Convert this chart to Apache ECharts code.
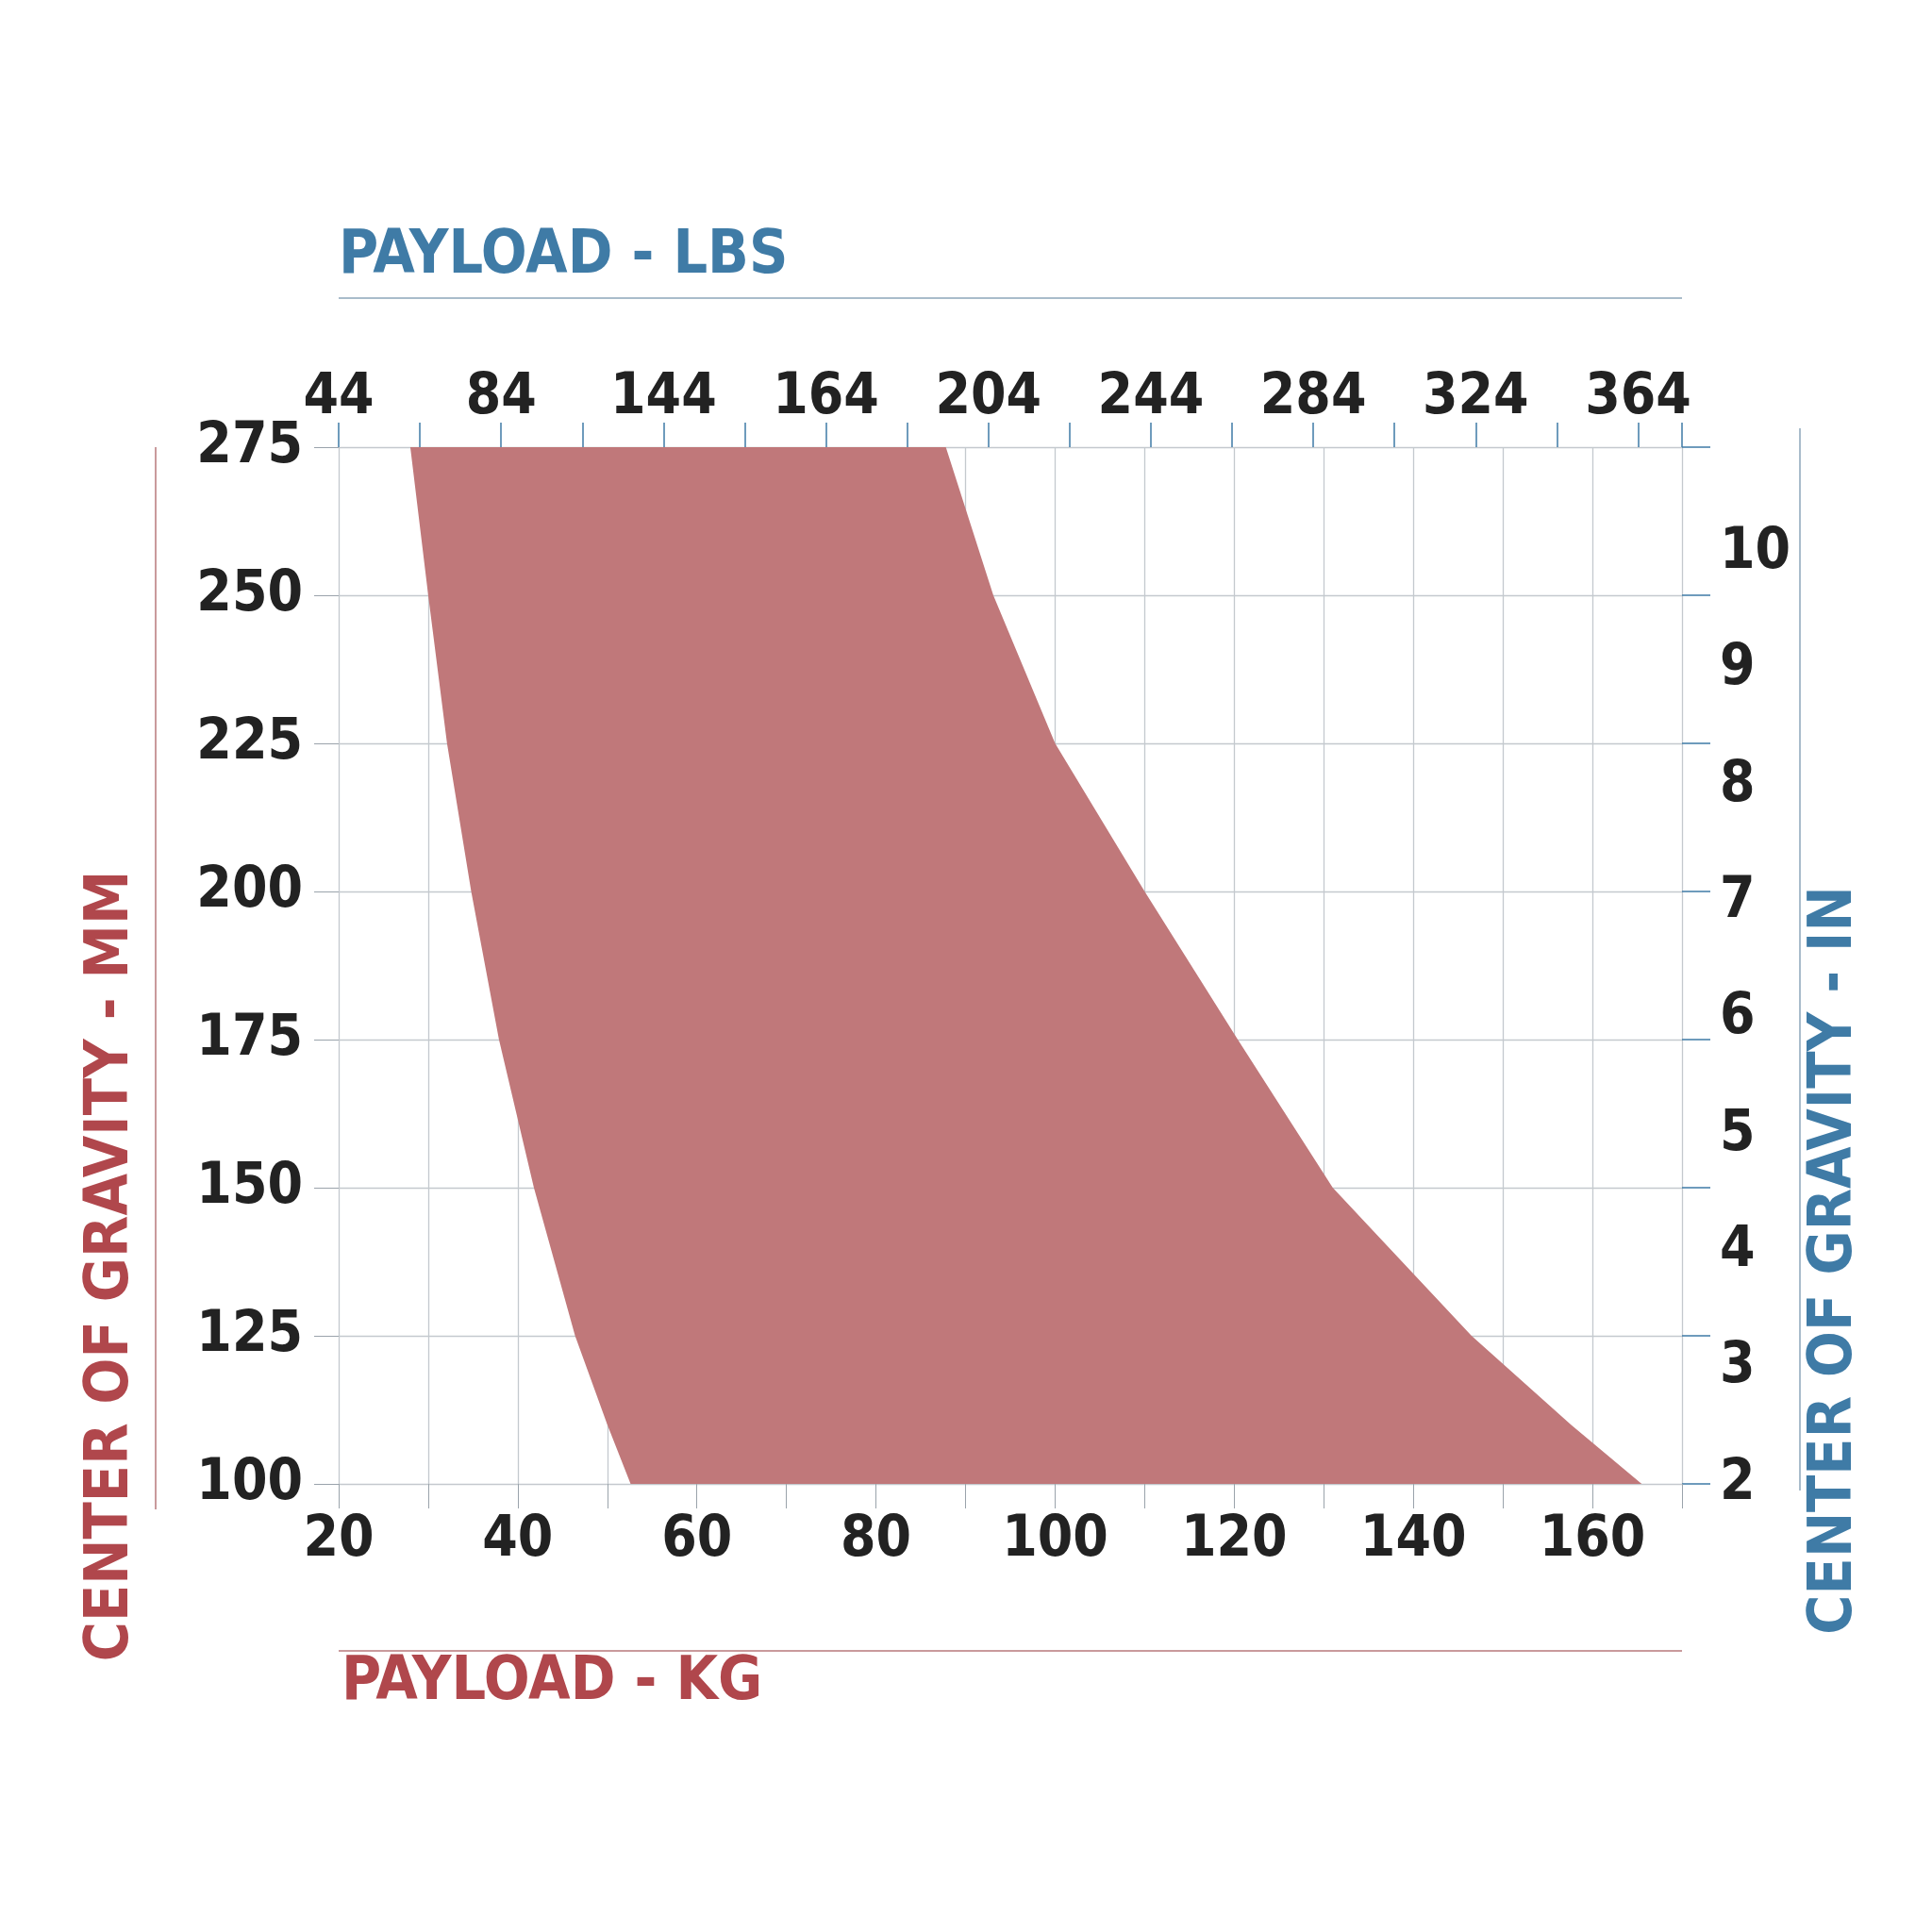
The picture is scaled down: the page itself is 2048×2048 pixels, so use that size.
<!DOCTYPE html>
<html><head><meta charset="utf-8">
<script src="https://cdn.jsdelivr.net/npm/echarts@6/dist/echarts.min.js"></script>
<style>html,body{margin:0;background:#fff}#c{width:2048px;height:2048px}</style>
</head><body><div id="c"></div>
<script>
// boundary of the allowed envelope, kg vs mm
var leftKg  = [28.0, 30.0, 32.1, 34.8, 37.9, 41.8, 46.4, 50.0, 52.6];
var leftMm  = [275, 250, 225, 200, 175, 150, 125, 110, 100];
var rightKg = [165.5, 157.6, 146.5, 131.0, 120.4, 110.0, 100.0, 93.1, 87.8];
var rightMm = [100, 110, 125, 150, 175, 200, 225, 250, 275];
var lbsLabels = ['44','84','144','164','204','244','284','324','364'];

var RED = '#b0474c', BLUE = '#3f7ba6', FILL = '#c0787a', INK = '#222';
var FONT = '"Liberation Sans Narrow","DejaVu Sans Condensed",sans-serif';

var poly = [];
for (var i=0;i<leftKg.length;i++) poly.push([leftKg[i], leftMm[i]]);
for (var j=0;j<rightKg.length;j++) poly.push([rightKg[j], rightMm[j]]);

var lbl = {color:INK, fontFamily:FONT, fontWeight:'bold', fontSize:60};
var chart = echarts.init(document.getElementById('c'));
chart.setOption({
  animation:false,
  grid:{left:359, right:265, top:474, bottom:475},
  xAxis:[
    {type:'value', min:20, max:170, interval:10, position:'bottom',
     axisLine:{show:false}, axisTick:{show:true, length:26, lineStyle:{color:'#9aa3ab'}},
     splitLine:{lineStyle:{color:'#c4c9ce', width:1.3}},
     axisLabel:Object.assign({margin:30, formatter:function(v){return (v%20===0 && v<=160)?v:'';}}, lbl)},
    {type:'value', min:0, max:16.54, interval:1, position:'top',
     axisLine:{show:false}, axisTick:{show:true, length:26, lineStyle:{color:BLUE, width:1.5}},
     splitLine:{show:false},
     axisLabel:Object.assign({margin:22, formatter:function(v){return (v%2===0 && v/2<lbsLabels.length)?lbsLabels[v/2]:'';}}, lbl)}
  ],
  yAxis:[
    {type:'value', min:100, max:275, interval:25, position:'left',
     axisLine:{show:false}, axisTick:{show:true, length:26, lineStyle:{color:'#9aa3ab'}},
     splitLine:{lineStyle:{color:'#c4c9ce', width:1.3}},
     axisLabel:Object.assign({margin:38}, lbl)},
    {type:'value', min:100, max:275, interval:25, position:'right',
     axisLine:{show:false}, axisTick:{show:true, length:30, lineStyle:{color:BLUE, width:1.5}},
     splitLine:{show:false}, axisLabel:{show:false}},
    {type:'value', min:2, max:10.91, interval:1, position:'right',
     axisLine:{show:false}, axisTick:{show:false}, splitLine:{show:false},
     axisLabel:Object.assign({margin:40, formatter:function(v){return v<=10?v:'';}}, lbl)}
  ],
  series:[{
    type:'custom', xAxisIndex:0, yAxisIndex:0, data:[0],
    renderItem:function(params, api){
      return {type:'polygon', shape:{points:poly.map(function(p){return api.coord(p);})},
              style:{fill:FILL}};
    }
  }],
  graphic:[
    {type:'line', shape:{x1:165,y1:474,x2:165,y2:1600}, style:{stroke:'#c99a9c', lineWidth:2}},
    {type:'line', shape:{x1:359,y1:316,x2:1783,y2:316}, style:{stroke:'#a9bccb', lineWidth:2}},
    {type:'line', shape:{x1:359,y1:1750,x2:1783,y2:1750}, style:{stroke:'#c99a9c', lineWidth:2}},
    {type:'line', shape:{x1:1908,y1:454,x2:1908,y2:1580}, style:{stroke:'#a9bccb', lineWidth:2}},
    {type:'text', left:359, top:240, style:{text:'PAYLOAD - LBS', fill:BLUE, font:'bold 64px '+FONT}},
    {type:'text', left:362, top:1752, style:{text:'PAYLOAD - KG', fill:RED, font:'bold 64px '+FONT}},
    {type:'text', x:118, y:1342, rotation:Math.PI/2, style:{text:'CENTER OF GRAVITY - MM', fill:RED, font:'bold 64px '+FONT, align:'center', verticalAlign:'middle'}},
    {type:'text', x:1945, y:1336, rotation:Math.PI/2, style:{text:'CENTER OF GRAVITY - IN', fill:BLUE, font:'bold 64px '+FONT, align:'center', verticalAlign:'middle'}}
  ]
});
</script></body></html>
